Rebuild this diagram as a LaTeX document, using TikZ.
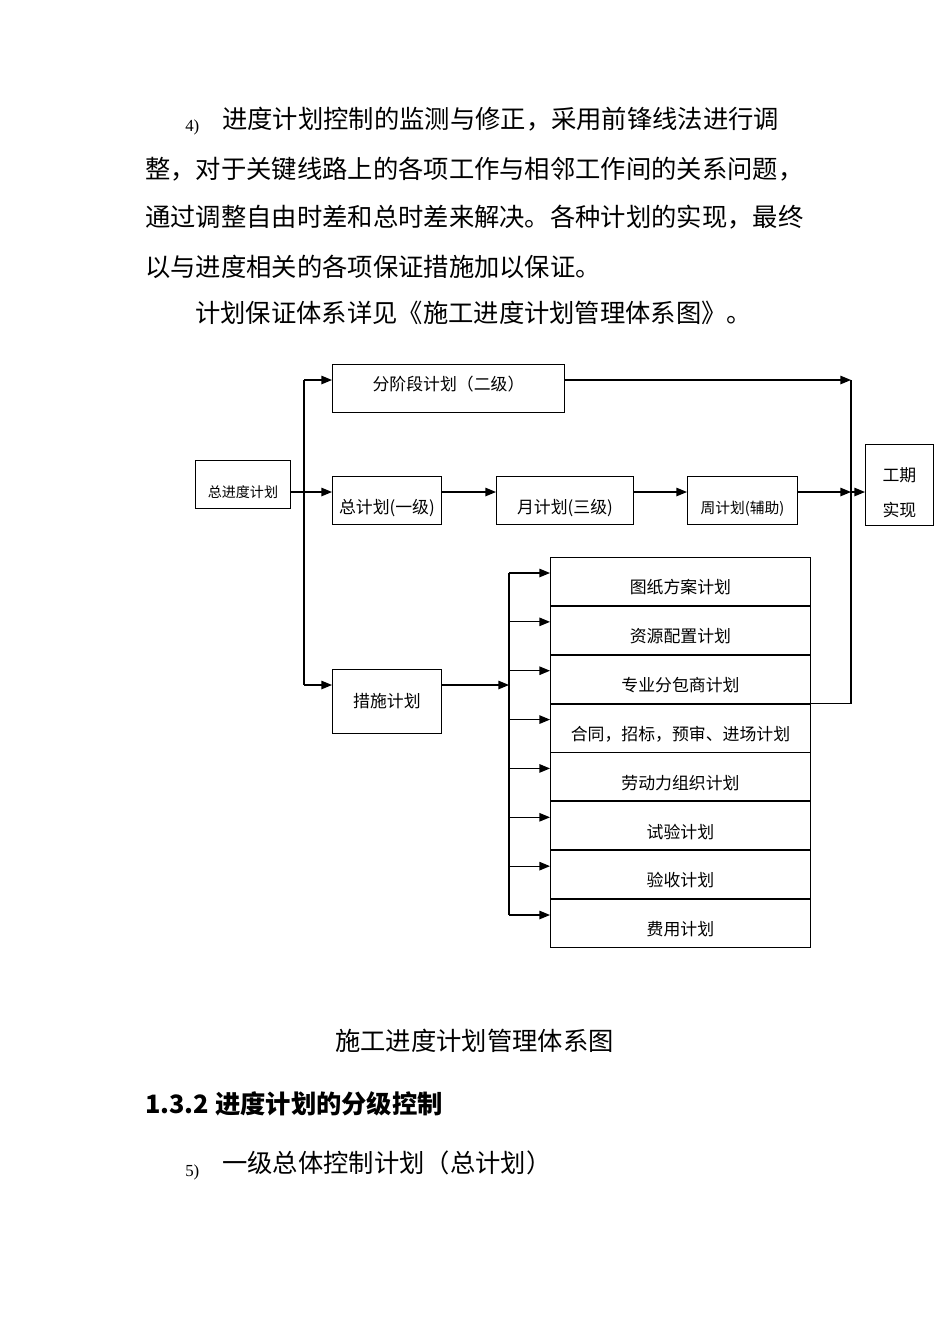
\documentclass[tikz,border=0pt]{standalone}
\usepackage{fontspec}
\setmainfont{Liberation Serif}
\newfontfamily\cjk{Noto Sans CJK SC}
\usetikzlibrary{arrows.meta, positioning}

\tikzset{
  para/.style={anchor=base west, inner sep=0pt, font=\cjk\fontsize{18}{22}\selectfont},
  numlab/.style={anchor=base west, inner sep=0pt, font=\fontsize{12}{14}\selectfont},
  pbox/.style={draw, line width=0.6pt, inner sep=0pt, anchor=north west,
               font=\cjk\fontsize{12}{14}\selectfont},
  lowtext/.style={text height=0.93cm, text depth=0.27cm},
  planrow/.style={pbox, minimum width=6.5cm, text height=0.91cm, text depth=0.29cm},
  arr/.style={-{Triangle[length=7.5pt,width=6pt]}, line width=0.8pt},
  link/.style={line width=0.8pt}
}

\begin{document}
\begin{tikzpicture}[x=0.025cm, y=-0.025cm]
  \useasboundingbox (0,0) rectangle (950,1344);

  % text above the chart
  \node[numlab] (n4) at (185,131) {4)};
  \node[para] (p1) at (222,128) {进度计划控制的监测与修正，采用前锋线法进行调};
  \node[para] (p2) at (145,178) {整，对于关键线路上的各项工作与相邻工作间的关系问题，};
  \node[para] (p3) at (145,226) {通过调整自由时差和总时差来解决。各种计划的实现，最终};
  \node[para] (p4) at (145,276) {以与进度相关的各项保证措施加以保证。};
  \node[para] (p5) at (195,322) {计划保证体系详见《施工进度计划管理体系图》。};

  % chart boxes
  \node[pbox, lowtext, minimum width=2.375cm, font=\cjk\fontsize{10}{12}\selectfont]
    (zjd) at (195,460) {总进度计划};
  \node[pbox, minimum width=5.8cm, text height=0.64cm, text depth=0.56cm]
    (fjd) at (332,364) {分阶段计划（二级）};
  \node[pbox, lowtext, minimum width=2.725cm] (zjh) at (332,476) {总计划(一级)};
  \node[pbox, lowtext, minimum width=3.425cm] (yjh) at (496,476) {月计划(三级)};
  \node[pbox, lowtext, minimum width=2.75cm, font=\cjk\fontsize{10.5}{12}\selectfont]
    (zhjh) at (687,476) {周计划(辅助)};
  \node[pbox, align=center, minimum width=1.7cm, minimum height=2.025cm]
    (gq) at (865,444) {\rule{0pt}{21pt}工期\\[11pt]实现};
  \node[pbox, minimum width=2.725cm, minimum height=1.6cm] (csjh) at (332,669) {措施计划};

  \node[planrow] (r1) at (550,557) {图纸方案计划};
  \node[planrow, below=0pt of r1] (r2) {资源配置计划};
  \node[planrow, below=0pt of r2] (r3) {专业分包商计划};
  \node[planrow, below=0pt of r3] (r4) {合同，招标，预审、进场计划};
  \node[planrow, below=0pt of r4] (r5) {劳动力组织计划};
  \node[planrow, below=0pt of r5] (r6) {试验计划};
  \node[planrow, below=0pt of r6] (r7) {验收计划};
  \node[planrow, below=0pt of r7] (r8) {费用计划};

  % connectors
  \coordinate (m) at (304,492);
  \coordinate (q1) at (851,380);
  \coordinate (t3) at (509,685);
  \coordinate (c) at ([yshift=-0.4cm]csjh.north west);

  \draw[arr] (m -| zjd.east) -- (m -| zjh.west);
  \draw[link] (m |- q1) -- (m |- c);
  \draw[arr] (m |- q1) -- (q1 -| fjd.west);
  \draw[arr] (m |- c) -- (c);
  \draw[arr] (m -| zjh.east) -- (m -| yjh.west);
  \draw[arr] (m -| yjh.east) -- (m -| zhjh.west);
  \draw[arr] (m -| zhjh.east) -- (m -| q1);
  \draw[arr] (m -| q1) -- (m -| gq.west);
  \draw[arr] (q1 -| fjd.east) -- (q1);
  \draw[link] (q1) -- (q1 |- r4.north east);
  \draw[link] (r4.north east) -- (q1 |- r4.north east);

  \draw[arr] (c -| csjh.east) -- (c -| t3);
  \foreach \i in {1,...,8}{
    \coordinate (a\i) at ([yshift=-0.4cm]r\i.north west);
    \draw[arr] (a\i -| t3) -- (a\i);
  }
  \draw[link] (a1 -| t3) -- (a8 -| t3);

  % text below the chart
  \node[para, anchor=base] (cap) at (474.5,1050) {施工进度计划管理体系图};
  \node[para, font=\cjk\bfseries\fontsize{18}{22}\selectfont] (h132) at (145,1113)
    {1.3.2 进度计划的分级控制};
  \node[numlab] (n5) at (185,1176) {5)};
  \node[para] (p6) at (222,1172) {一级总体控制计划（总计划）};
\end{tikzpicture}
\end{document}
